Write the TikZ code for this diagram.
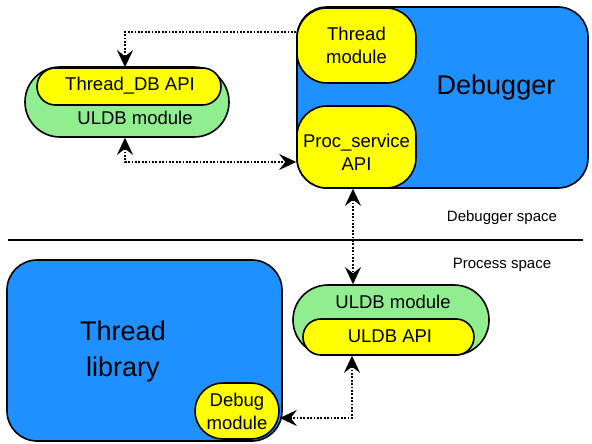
\documentclass[tikz,border=0pt]{standalone}
\usepackage{fontspec}
\setmainfont{Liberation Sans}
\usetikzlibrary{arrows.meta}
\definecolor{dbblue}{RGB}{30,144,255}
\definecolor{modgreen}{RGB}{144,238,144}
\definecolor{apiyellow}{RGB}{255,255,0}
\begin{document}
\begin{tikzpicture}[x=1pt,y=-1pt,
  box/.style={draw=black, line width=1.6pt, rectangle, inner sep=0pt, align=center},
  bluebox/.style={box, fill=dbblue, rounded corners=30pt},
  yelbox/.style={box, fill=apiyellow},
  grnbox/.style={box, fill=modgreen},
  midtext/.style={font=\fontsize{18.5}{23}\selectfont, align=center, inner sep=0pt},
  bigtext/.style={font=\fontsize{27}{36}\selectfont, align=center, inner sep=0pt},
  smalltext/.style={font=\fontsize{15}{18}\selectfont, inner sep=0pt},
  dotline/.style={line width=1.8pt, dash pattern=on 1.8pt off 1.6pt},
  dotarrow/.style={dotline, {Stealth[length=17pt,width=16pt,inset=6pt]}-{Stealth[length=17pt,width=16pt,inset=6pt]}},
  dotarrowend/.style={dotline, -{Stealth[length=17pt,width=16pt,inset=6pt]}}
]
\path[use as bounding box] (0,0) rectangle (592,444);

% Debugger side
\node[bluebox, minimum width=291pt, minimum height=181pt] (dbg) at (442.5,97.5) {};
\node[bigtext] (dbglabel) at (496,88) {Debugger};
\node[yelbox, rounded corners=30pt, minimum width=119pt, minimum height=75pt, midtext] (thm) at (356.5,45.5) {Thread\\module};
\node[yelbox, rounded corners=30pt, minimum width=119pt, minimum height=82pt, midtext] (ps) at (356.5,147) {};
\node[midtext] (pslabel) at (356.5,152) {Proc\_service\\API};

% Left ULDB module
\node[grnbox, rounded corners=34.9pt, minimum width=204pt, minimum height=70pt] (uldbL) at (127,102) {};
\node[yelbox, rounded corners=18.4pt, minimum width=184pt, minimum height=37pt] (tdb) at (129,86.5) {};
\node[midtext] (tdblabel) at (130,86) {Thread\_DB API};
\node[midtext] (uldbLlabel) at (135,118) {ULDB module};

% Separator
\coordinate (sepL) at (8,240);
\coordinate (sepR) at (583,240);
\draw[line width=1.5pt] (sepL) -- (sepR);
\node[smalltext] (dspace) at (502,218) {Debugger space};
\node[smalltext] (pspace) at (502,265) {Process space};

% Right ULDB module
\node[grnbox, rounded corners=34.9pt, minimum width=196pt, minimum height=70pt] (uldbR) at (391,320) {};
\node[yelbox, rounded corners=17.9pt, minimum width=171pt, minimum height=36pt] (uapi) at (388.5,337) {};
\node[midtext] (uldbRlabel) at (393,302) {ULDB module};
\node[midtext] (uapilabel) at (390,336) {ULDB API};

% Thread library
\node[bluebox, minimum width=275pt, minimum height=181pt] (tlib) at (144.5,350.5) {};
\node[bigtext] (tliblabel) at (123,352) {Thread\\library};
\node[yelbox, rounded corners=27.9pt, minimum width=84pt, minimum height=56pt, midtext] (dbm) at (237,411) {Debug\\module};

% Connectors
\coordinate (c1) at (125,32);
\draw[dotarrowend] (thm.west |- c1) -- (c1) -- (c1 |- tdb.north);
\coordinate (c2) at (125,162);
\draw[dotarrow] (c2 |- uldbL.south) -- (c2) -- (ps.west |- c2);
\coordinate (c3) at (353,240);
\draw[dotarrow] (c3 |- ps.south) -- (c3 |- uldbR.north);
\coordinate (c4) at (352,418);
\draw[dotarrow] (c4 |- uldbR.south) -- (c4) -- (dbm.east |- c4);
\end{tikzpicture}
\end{document}
